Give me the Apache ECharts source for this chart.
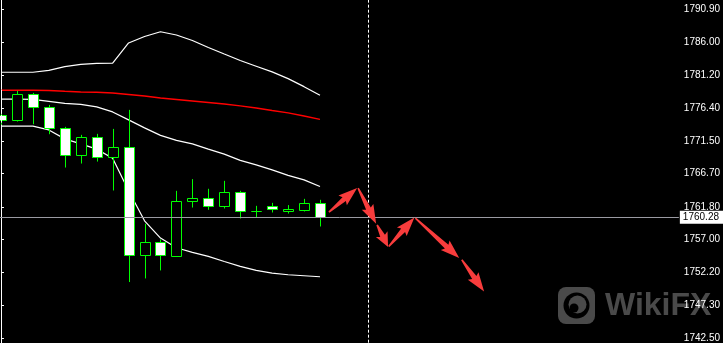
<!DOCTYPE html>
<html><head><meta charset="utf-8">
<script src="https://cdn.jsdelivr.net/npm/echarts@6/dist/echarts.min.js"></script>
<style>html,body{margin:0;padding:0;background:#000;}#c{width:723px;height:343px;}</style>
</head><body><div id="c"></div>
<script>
// ---- data (bar index 0..20, price) ----
const opens  = [1775.31,1774.57,1778.40,1776.48,1773.40,1769.42,1772.07,1769.13,1770.60,1754.71,1756.67,1754.57,1762.66,1763.10,1761.92,1763.98,1761.19,1761.92,1761.27,1761.33,1762.36];
const closes = [1774.57,1778.40,1776.48,1773.40,1769.42,1772.07,1769.13,1770.60,1754.71,1756.67,1754.71,1762.66,1763.10,1761.92,1763.98,1761.19,1761.25,1761.48,1761.52,1762.36,1760.28];
const lows   = [1773.73,1774.37,1773.98,1772.51,1767.60,1768.19,1768.48,1764.22,1750.74,1751.27,1752.45,1754.57,1761.71,1761.38,1761.57,1760.10,1760.30,1760.98,1760.83,1761.13,1758.92];
const highs  = [1775.50,1778.88,1778.59,1776.82,1773.59,1772.41,1772.56,1773.29,1776.09,1759.32,1757.01,1764.17,1765.89,1764.47,1765.64,1764.17,1761.96,1762.40,1762.07,1762.99,1762.85];
const bbUpper  = [1781.63,1781.63,1781.63,1781.90,1782.46,1782.78,1782.93,1782.96,1785.94,1786.90,1787.60,1787.12,1786.31,1785.28,1784.32,1783.37,1782.52,1781.68,1780.69,1779.51,1778.25];
const bbMiddle = [1777.66,1777.66,1777.63,1777.34,1777.04,1776.90,1776.53,1775.79,1774.62,1773.44,1772.34,1771.60,1771.09,1770.31,1769.57,1768.66,1768.00,1767.26,1766.45,1765.79,1764.80];
const bbLower  = [1773.69,1773.69,1773.69,1773.14,1771.82,1771.09,1770.31,1768.98,1764.17,1759.76,1757.21,1755.79,1755.10,1754.51,1753.77,1753.04,1752.45,1752.06,1751.81,1751.67,1751.52];
const maRed    = [1778.98,1778.98,1778.98,1778.96,1778.84,1778.73,1778.69,1778.59,1778.37,1778.15,1777.85,1777.63,1777.41,1777.19,1776.97,1776.68,1776.38,1776.01,1775.65,1775.20,1774.69];
// arrows: [fromBar, fromPrice, toBar, toPrice]
const arrows = [
  [20.56,1761.04,22.33,1764.57],
  [22.39,1764.57,23.52,1759.32],
  [23.58,1759.17,24.27,1755.89],
  [24.31,1755.98,25.92,1760.24],
  [25.98,1760.16,28.73,1754.27],
  [28.89,1754.02,30.29,1749.36]
];
const priceTicks = [1790.90,1786.00,1781.20,1776.40,1771.50,1766.70,1761.80,1757.00,1752.20,1747.30,1742.50];
const currentPrice = 1760.28;
const separators = [0, 23];
const xMin = -0.0625, xMax = 42.5;
const yMin = 1741.81, yMax = 1792.27;

const candleData = opens.map((o, i) => [i, o, closes[i], lows[i], highs[i]]);
const pairs = arr => arr.map((v, i) => [i, v]);

const chart = echarts.init(document.getElementById('c'), null, {renderer: 'canvas'});
const option = {
  animation: false,
  backgroundColor: '#000',
  grid: {left: 0, right: 42, top: 0, bottom: 0, containLabel: false},
  xAxis: {type: 'value', min: xMin, max: xMax, show: false},
  yAxis: {
    type: 'value', position: 'right', min: yMin, max: yMax, z: 3,
    splitLine: {show: false},
    axisLine: {show: true, lineStyle: {color: '#fff', width: 1}},
    axisTick: {show: true, length: 3, lineStyle: {color: '#fff'}, customValues: priceTicks},
    axisLabel: {show: true, color: '#fff', fontSize: 10, fontFamily: 'Liberation Sans', margin: 5,
      customValues: priceTicks, formatter: v => Number(v).toFixed(2)}
  },
  graphic: [
    {type: 'rect', z: -1, shape: {x: 558, y: 287, width: 37, height: 37, r: 8}, style: {fill: '#4a4a4a'}},
    {type: 'circle', z: -1, shape: {cx: 576.5, cy: 305.5, r: 13}, style: {fill: '#000'}},
    {type: 'circle', z: -1, shape: {cx: 577.5, cy: 304.5, r: 9}, style: {fill: '#4a4a4a'}},
    {type: 'circle', z: -1, shape: {cx: 574, cy: 308, r: 4.5}, style: {fill: '#000'}},
    {type: 'text', z: -1, style: {x: 605, y: 306, text: 'WikiFX', fill: '#4a4a4a',
      font: 'bold 32px "Liberation Sans"', textVerticalAlign: 'middle'}}
  ],
  series: [
    {
      type: 'line', data: pairs(bbUpper), symbol: 'none', lineStyle: {color: '#fff', width: 1.2}, silent: true,
      markLine: {silent: true, symbol: 'none', label: {show: false},
        lineStyle: {color: '#fff', width: 1, type: [3, 2]},
        data: separators.map(s => ({xAxis: s}))}
    },
    {type: 'line', data: pairs(bbMiddle), symbol: 'none', lineStyle: {color: '#fff', width: 1.2}, silent: true},
    {type: 'line', data: pairs(bbLower), symbol: 'none', lineStyle: {color: '#fff', width: 1.2}, silent: true},
    {type: 'line', data: pairs(maRed), symbol: 'none', lineStyle: {color: '#ff0000', width: 1.5}, silent: true},
    {
      type: 'custom', data: candleData, silent: true, z: 4,
      encode: {x: 0, y: [1, 2, 3, 4]},
      renderItem(params, api) {
        const i = api.value(0), o = api.value(1), c = api.value(2), lo = api.value(3), hi = api.value(4);
        const pO = api.coord([i, o]), pC = api.coord([i, c]);
        const pL = api.coord([i, lo]), pH = api.coord([i, hi]);
        const cx = Math.round(pO[0]) + 0.5;
        const top = Math.min(pO[1], pC[1]), bot = Math.max(pO[1], pC[1]);
        const bull = c >= o;
        return {type: 'group', children: [
          {type: 'line', shape: {x1: cx, y1: pH[1], x2: cx, y2: pL[1]}, style: {stroke: '#00ff00', lineWidth: 1}},
          {type: 'rect', shape: {x: cx - 5, y: Math.round(top) + 0.5, width: 10, height: Math.max(0, Math.round(bot) - Math.round(top))},
            style: {fill: bull ? '#000' : '#fff', stroke: '#00ff00', lineWidth: 1}}
        ]};
      },
      markLine: {silent: true, symbol: 'none',
        lineStyle: {color: '#9a9aa2', width: 1, type: 'solid'},
        label: {show: true, position: 'end', distance: 1, formatter: currentPrice.toFixed(2),
          backgroundColor: '#fff', color: '#000', fontSize: 10, fontFamily: 'Liberation Sans',
          padding: [2, 4, 1, 3]},
        data: [{yAxis: currentPrice}]}
    },
    {
      type: 'custom', data: arrows, silent: true, z: 5,
      encode: {x: [0, 2], y: [1, 3]},
      renderItem(params, api) {
        const p0 = api.coord([api.value(0), api.value(1)]);
        const p1 = api.coord([api.value(2), api.value(3)]);
        const dx = p1[0] - p0[0], dy = p1[1] - p0[1];
        const L = Math.hypot(dx, dy);
        const ux = dx / L, uy = dy / L, nx = -uy, ny = ux;
        const hl = Math.min(17, L * 0.5), hw = 6.5, sw = 2.6, tw = 0.8;
        const P = (a, b) => [p0[0] + ux * a + nx * b, p0[1] + uy * a + ny * b];
        return {type: 'polygon', shape: {points: [P(0, tw), P(L - hl, sw), P(L - hl - 2, hw), P(L, 0),
          P(L - hl - 2, -hw), P(L - hl, -sw), P(0, -tw)]}, style: {fill: '#f83c3c'}};
      }
    }
  ]
};
chart.setOption(option);
</script>
</body></html>
